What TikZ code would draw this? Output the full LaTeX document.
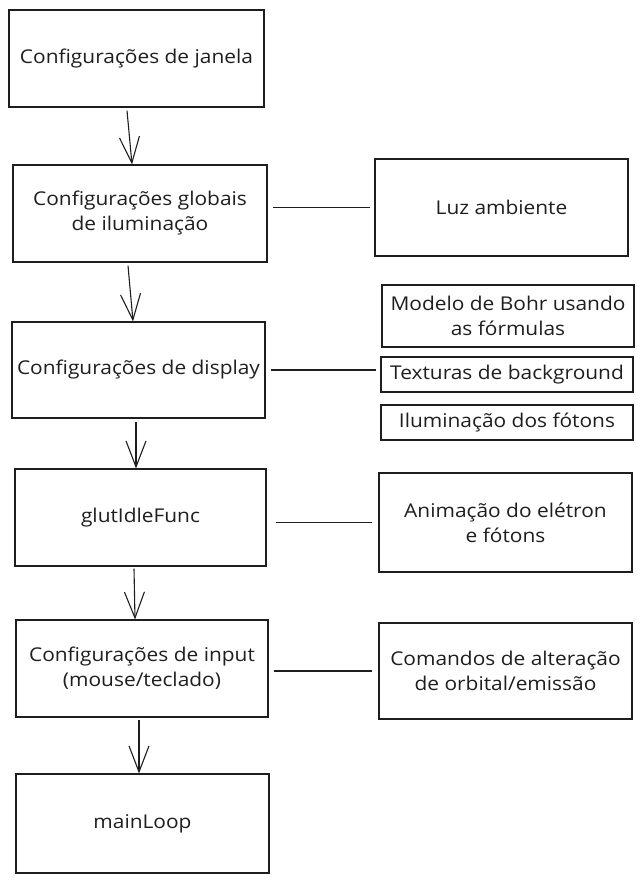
\documentclass[tikz,border=0pt]{standalone}
\usepackage{fontspec}
\setmainfont[FakeStretch=1.1]{Open Sans}
\usetikzlibrary{arrows.meta}
\definecolor{ink}{HTML}{1E1E1E}
\tikzset{
  box/.style={draw=ink, line width=1.1pt, rectangle, inner sep=0pt, align=center,
    text=ink, font=\fontsize{19}{25}\selectfont},
  flow/.style={draw=ink, line width=1.1pt, -{Straight Barb[length=26pt,width=20pt,line width=1.1pt]}},
  link/.style={draw=ink, line width=1.1pt},
}
\begin{document}
\begin{tikzpicture}[x=1pt,y=-1pt]
\useasboundingbox (0,0) rectangle (644,881);
% left column
\node[box, minimum width=255pt, minimum height=97pt] (b1) at (136.5,58.5) {Configurações de janela};
\node[box, minimum width=254pt, minimum height=97pt] (b2) at (140,213.5) {Configurações globais\\de iluminação};
\node[box, minimum width=253pt, minimum height=96pt] (b3) at (138.5,370) {Configurações de display};
\node[box, minimum width=251pt, minimum height=97pt] (b4) at (140.5,517.5) {glutIdleFunc};
\node[box, minimum width=252pt, minimum height=97pt] (b5) at (142,668.5) {Configurações de input\\(mouse/teclado)};
\node[box, minimum width=253pt, minimum height=99pt] (b6) at (142.5,823.5) {mainLoop};
% right column
\node[box, minimum width=253pt, minimum height=97pt] (luz) at (501.5,207.5) {Luz ambiente};
\node[box, minimum width=252pt, minimum height=62pt] (modelo) at (508,316) {Modelo de Bohr usando\\as fórmulas};
\node[box, minimum width=252pt, minimum height=35pt] (tex) at (507,374.5) {Texturas de background};
\node[box, minimum width=252pt, minimum height=35pt] (ilum) at (507,422.5) {Iluminação dos fótons};
\node[box, minimum width=253pt, minimum height=99pt] (anim) at (505.5,522.5) {Animação do elétron\\e fótons};
\node[box, minimum width=253pt, minimum height=96pt] (com) at (505.5,671) {Comandos de alteração\\de orbital/emissão};
% arrows
\draw[flow] ([shift={(-9.5,3)}]b1.south) -- ([xshift=-8pt]b2.north);
\draw[flow] ([shift={(-12,3)}]b2.south) -- ([xshift=-5.5pt]b3.north);
\draw[flow] ([shift={(-2.5,3)}]b3.south) -- ([xshift=-4.5pt]b4.north);
\draw[flow] ([shift={(-6.5,2)}]b4.south) -- ([xshift=-7pt]b5.north);
\draw[flow] ([shift={(-3,2)}]b5.south) -- ([xshift=-3.5pt]b6.north);
% links
\draw[link, shorten <=5pt, shorten >=4pt] (b2.east |- luz.west) -- (luz.west);
\draw[link, shorten <=5pt, shorten >=4pt] (b3.east) -- (b3.east -| tex.west);
\draw[link, shorten <=9pt, shorten >=6pt] (b4.east |- anim.west) -- (anim.west);
\draw[link, shorten <=5pt, shorten >=6pt] (b5.east |- com.west) -- (com.west);
\end{tikzpicture}
\end{document}
